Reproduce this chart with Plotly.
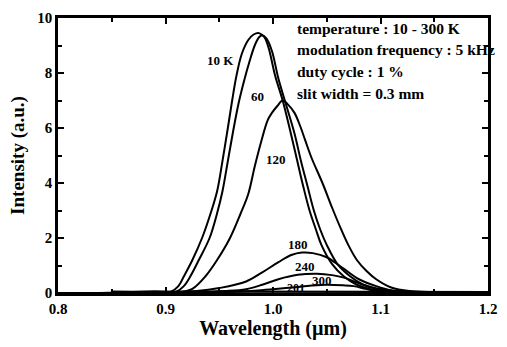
import plotly.graph_objects as go

# ---- data ----
wl_10K = [0.80, 0.88, 0.905, 0.912, 0.917, 0.925, 0.934, 0.942, 0.948, 0.953, 0.958, 0.962, 0.966, 0.971,
          0.977, 0.982, 0.987, 0.992, 0.996, 1.002, 1.009, 1.016, 1.022, 1.028, 1.034, 1.040, 1.045, 1.055,
          1.066, 1.078, 1.090, 1.105, 1.120, 1.14, 1.20]
int_10K = [0.0, 0.02, 0.05, 0.25, 0.6, 1.2, 2.0, 2.9, 3.7, 4.8, 6.0, 7.0, 7.9, 8.7,
           9.2, 9.4, 9.45, 9.3, 8.9, 7.9, 7.0, 5.9, 4.9, 3.9, 3.0, 2.3, 1.75, 1.05,
           0.6, 0.3, 0.15, 0.07, 0.03, 0.02, 0.02]

wl_60K = [0.80, 0.88, 0.910, 0.917, 0.923, 0.931, 0.941, 0.948, 0.953, 0.958, 0.963, 0.968, 0.973, 0.978,
          0.983, 0.987, 0.990, 0.994, 0.999, 1.005, 1.011, 1.020, 1.026, 1.032, 1.038, 1.044, 1.050, 1.060,
          1.072, 1.084, 1.096, 1.110, 1.125, 1.14, 1.20]
int_60K = [0.0, 0.02, 0.05, 0.25, 0.6, 1.2, 2.0, 2.9, 3.7, 4.8, 5.9, 6.9, 7.7, 8.4,
           9.0, 9.3, 9.37, 9.25, 8.8, 7.8, 7.0, 5.8, 4.8, 3.9, 3.0, 2.3, 1.75, 1.05,
           0.6, 0.3, 0.15, 0.07, 0.03, 0.02, 0.02]

wl_120K = [0.80, 0.90, 0.915, 0.925, 0.937, 0.948, 0.960, 0.970, 0.977, 0.983, 0.989, 0.995, 0.999, 1.004,
           1.009, 1.014, 1.020, 1.025, 1.030, 1.036, 1.046, 1.055, 1.063, 1.070, 1.078, 1.087, 1.096, 1.110,
           1.127, 1.15, 1.20]
int_120K = [0.0, 0.02, 0.04, 0.15, 0.6, 1.2, 2.0, 2.9, 3.6, 4.6, 5.5, 6.28, 6.55, 6.8,
            7.0, 6.85, 6.55, 6.1, 5.55, 4.9, 4.0, 3.1, 2.35, 1.75, 1.2, 0.8, 0.5, 0.2,
            0.07, 0.03, 0.02]

wl_180K = [0.80, 0.90, 0.929, 0.950, 0.975, 0.990, 1.005, 1.017, 1.027, 1.037, 1.050, 1.058, 1.066, 1.080,
           1.096, 1.110, 1.130, 1.20]
int_180K = [0.0, 0.03, 0.07, 0.18, 0.42, 0.75, 1.12, 1.38, 1.47, 1.45, 1.3, 1.1, 0.88, 0.5,
            0.25, 0.1, 0.04, 0.02]

wl_240K = [0.80, 0.93, 0.955, 0.975, 0.990, 1.005, 1.023, 1.041, 1.055, 1.066, 1.080, 1.100, 1.120, 1.20]
int_240K = [0.0, 0.03, 0.07, 0.14, 0.3, 0.5, 0.66, 0.7, 0.65, 0.56, 0.35, 0.14, 0.05, 0.02]

wl_300K = [0.80, 0.95, 0.980, 1.000, 1.018, 1.036, 1.050, 1.065, 1.075, 1.086, 1.096, 1.120, 1.20]
int_300K = [0.0, 0.03, 0.07, 0.14, 0.2, 0.27, 0.3, 0.28, 0.25, 0.15, 0.07, 0.03, 0.02]

wl_base = [0.85, 0.87, 0.89, 0.91, 0.95, 1.0, 1.05, 1.1, 1.2]
int_base = [0.05, 0.04, 0.06, 0.04, 0.05, 0.04, 0.05, 0.04, 0.03]

series = [(wl_10K, int_10K), (wl_60K, int_60K), (wl_120K, int_120K),
          (wl_180K, int_180K), (wl_240K, int_240K), (wl_300K, int_300K)]

curve_labels = ["10 K", "60", "120", "180", "240", "300", "201"]
label_x = [0.951, 0.986, 1.003, 1.023, 1.030, 1.046, 1.021]
label_y = [8.45, 7.15, 4.85, 1.75, 0.97, 0.44, 0.2]

info_lines = ["temperature : 10 - 300 K", "modulation frequency : 5 kHz",
              "duty cycle : 1 %", "slit width = 0.3 mm"]

x_ticks = [0.8, 0.9, 1.0, 1.1, 1.2]
y_ticks = [0, 2, 4, 6, 8, 10]

FONT = "Liberation Serif"

fig = go.Figure()
fig.add_trace(go.Scatter(x=wl_base, y=int_base, mode="lines",
                         line=dict(color="black", width=2.2), showlegend=False))
for wx, wy in series:
    fig.add_trace(go.Scatter(x=wx, y=wy, mode="lines", line_shape="spline",
                             line=dict(color="black", width=2), showlegend=False))

for t, lx, ly in zip(curve_labels, label_x, label_y):
    fig.add_annotation(x=lx, y=ly, text="<b>%s</b>" % t, showarrow=False,
                       font=dict(family=FONT, size=13 if t != "201" else 12, color="black"))

for i, t in enumerate(info_lines):
    fig.add_annotation(xref="paper", yref="paper", x=(300 - 58) / 439,
                       y=1 - (22 + 22.5 * i - 11.5) / 285.5, text="<b>%s</b>" % t,
                       showarrow=False, xanchor="left", yanchor="middle",
                       font=dict(family=FONT, size=15.5, color="black"))

fig.update_layout(
    width=507, height=347,
    margin=dict(l=58, r=10, t=11, b=50),
    paper_bgcolor="white", plot_bgcolor="white",
    font=dict(family=FONT, color="black"),
    xaxis=dict(range=[0.8, 1.2], tickvals=x_ticks, ticktext=["<b>%.1f</b>" % v for v in x_ticks],
               ticks="inside", ticklen=6, tickwidth=2, tickcolor="black",
               minor=dict(ticks="inside", dtick=0.05, ticklen=4, tickwidth=2, tickcolor="black"),
               showline=True, linewidth=2.5, linecolor="black", mirror="ticks",
               showgrid=False, zeroline=False,
               tickfont=dict(family=FONT, size=15),
               title=dict(text="<b>Wavelength (\u00b5m)</b>", font=dict(family=FONT, size=20), standoff=6)),
    yaxis=dict(range=[0, 10], tickvals=y_ticks, ticktext=["<b>%d</b>" % v for v in y_ticks],
               ticks="inside", ticklen=6, tickwidth=2, tickcolor="black",
               minor=dict(ticks="inside", dtick=1, ticklen=4, tickwidth=2, tickcolor="black"),
               showline=True, linewidth=2.5, linecolor="black", mirror="ticks",
               showgrid=False, zeroline=False,
               tickfont=dict(family=FONT, size=15),
               title=dict(text="<b>Intensity (a.u.)</b>", font=dict(family=FONT, size=19), standoff=8)),
)

fig.write_html("out.html")
